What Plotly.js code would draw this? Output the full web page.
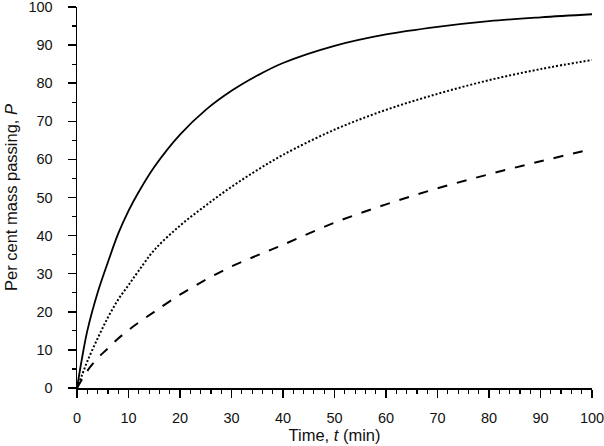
<!DOCTYPE html>
<html>
<head>
<meta charset="utf-8">
<script src="https://cdn.plot.ly/plotly-3.0.1.min.js"></script>
<style>
  html, body { margin: 0; padding: 0; background: #fff; }
  #chart { width: 604px; height: 446px; }
</style>
</head>
<body>
<div id="chart"></div>
<script>
// Time (min)
const timeMin = [0, 1, 2, 4, 6, 8, 10, 12, 15, 20, 25, 30, 35, 40, 50, 60, 70, 80, 90, 100];

// Per cent mass passing for the three curves
const passingSolid = [0, 8, 15, 25, 33, 40.5, 46.5, 51.5, 58, 66.5, 73, 78, 82, 85.3, 89.8, 92.8, 94.8, 96.3, 97.3, 98.1];
const passingDotted = [0, 3.5, 7, 13, 18.5, 23.2, 27, 30.8, 36.2, 42.6, 47.9, 52.8, 57.2, 61.2, 67.8, 73, 77.2, 80.8, 83.7, 86.1];
const passingDashed = [0, 2.3, 4.5, 7.8, 10.4, 13, 15.2, 17.2, 20, 24.5, 28.4, 31.9, 34.8, 37.6, 43.4, 48.2, 52.4, 56.1, 59.5, 62.7];

const xTicks = [0, 10, 20, 30, 40, 50, 60, 70, 80, 90, 100];
const yTicks = [0, 10, 20, 30, 40, 50, 60, 70, 80, 90, 100];

const tickFont = { family: 'Liberation Sans, Arial, sans-serif', size: 14.5, color: '#111' };
const titleFont = { family: 'Liberation Sans, Arial, sans-serif', size: 16.5, color: '#111' };

function curve(y, dash, width) {
  return {
    x: timeMin, y: y, type: 'scatter', mode: 'lines',
    line: { color: '#000', width: width, dash: dash, shape: 'spline', smoothing: 1 },
    hoverinfo: 'skip', showlegend: false
  };
}

const data = [
  curve(passingSolid, 'solid', 1.8),
  curve(passingDotted, '2px,2px', 2),
  curve(passingDashed, '10px,10px', 2)
];

const axisCommon = {
  range: [0, 100], showgrid: false, zeroline: false,
  showline: true, linecolor: '#000', linewidth: 1.5,
  ticks: 'outside', ticklen: 8, tickwidth: 1.5, tickcolor: '#000',
  tickfont: tickFont, tickmode: 'array', fixedrange: true,
  ticklabeloverflow: 'allow', automargin: false
};

const layout = {
  width: 604, height: 446,
  margin: { l: 77, r: 12, t: 7, b: 58 },
  paper_bgcolor: '#fff', plot_bgcolor: '#fff',
  font: tickFont,
  xaxis: Object.assign({}, axisCommon, {
    tickvals: xTicks, ticktext: xTicks.map(String),
    minor: { dtick: 2, ticks: 'outside', ticklen: 4, tickwidth: 1.2, tickcolor: '#000' },
    ticklabelstandoff: 8,
    title: { text: 'Time, <i>t</i> (min)', font: titleFont, standoff: 4 }
  }),
  yaxis: Object.assign({}, axisCommon, {
    tickvals: yTicks, ticktext: yTicks.map(String),
    minor: { dtick: 5, ticks: 'outside', ticklen: 4, tickwidth: 1.2, tickcolor: '#000' },
    ticklabelstandoff: 12,
    title: { text: 'Per cent mass passing, <i>P</i>', font: titleFont, standoff: 6 }
  })
};

Plotly.newPlot('chart', data, layout, { displayModeBar: false, staticPlot: true });
</script>
</body>
</html>
